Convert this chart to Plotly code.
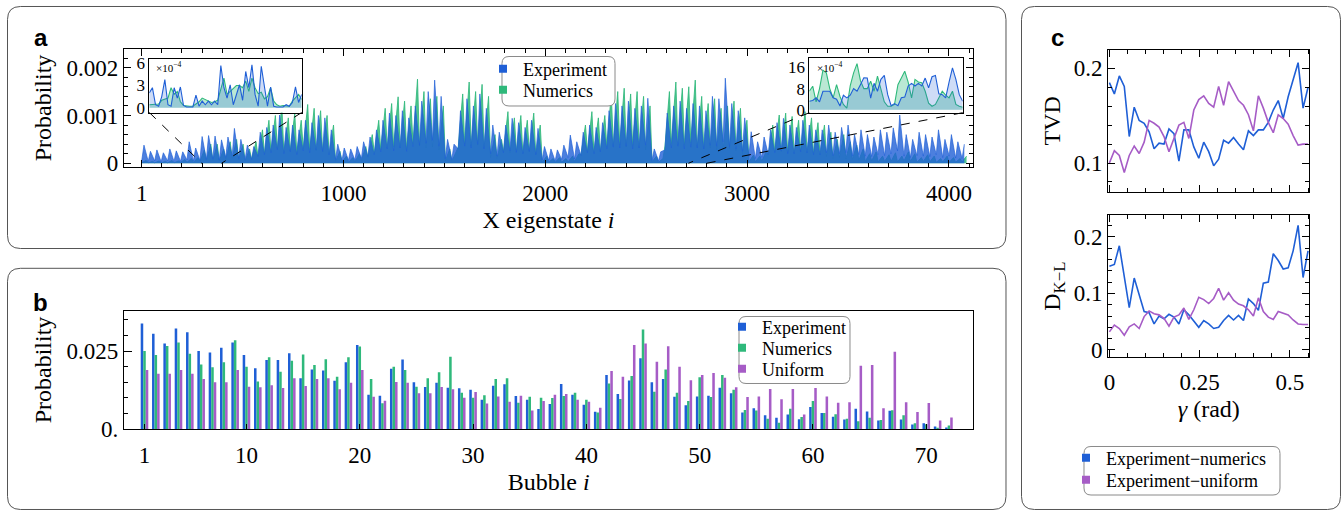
import plotly.graph_objects as go

W, H = 1343, 512

# ---------------- data ----------------
# Panel a: X-eigenstate probabilities, read per 32-state bin (units 1e-4): peak and trough
A_BIN = 32
a_exp_peak = [3.8, 2.5, 2.8, 2.2, 3.0, 2.6, 2.4, 4.5, 3.2,
              5.6, 5.8, 5.7, 4.9, 5.5, 7.3, 5.0, 3.8, 3.5, 6.5, 7.5,
              8.0, 10.1, 7.5, 8.0, 7.0, 9.0, 8.5, 10.0, 9.5, 7.0,
              4.0, 3.2, 3.0, 3.5, 4.5, 5.5, 7.0,
              9.0, 10.5, 10.0, 11.0, 9.5, 12.0, 13.0, 15.0, 17.4, 14.0,
              5.0, 4.0, 11.0, 13.5, 12.0, 14.5, 11.5, 8.0, 6.5,
              8.0, 9.4, 8.5, 7.5, 9.0, 7.3,
              3.5, 3.0, 2.8, 3.8, 5.9, 4.5, 6.5, 8.0, 7.5, 8.5,
              11.0, 12.5, 12.0, 13.0, 11.5, 12.0, 13.6, 3.0, 2.4,
              10.5, 12.0, 13.0, 11.5, 12.5,
              12.0, 11.0, 14.0, 13.5, 17.8, 12.5, 11.0, 9.5, 6.6, 4.5, 5.5,
              7.0, 8.5, 9.4, 8.0, 7.5, 9.0, 8.0, 7.0,
              7.0, 8.0, 6.5, 7.5, 8.0, 6.0, 7.0,
              6.0, 5.5, 7.0, 6.5, 7.4, 10.1, 6.0, 5.0, 6.5, 6.0, 5.5, 7.0, 5.0, 6.0, 4.5, 4.0]
a_exp_trough = [0.6, 0.4, 0.5, 0.3, 0.5, 0.4, 0.4, 0.7, 0.5,
                0.6, 0.8, 0.9, 0.7, 1.2, 1.6, 1.0, 0.8, 0.8, 1.5, 1.8,
                2.2, 2.8, 2.0, 2.4, 1.8, 2.6, 2.2, 2.8, 2.5, 1.8,
                0.8, 0.6, 0.6, 0.7, 1.0, 1.4, 1.8,
                2.4, 3.0, 2.6, 3.2, 2.5, 3.5, 3.8, 4.2, 4.8, 3.6,
                1.0, 0.8, 3.0, 3.6, 3.2, 4.0, 3.0, 2.0, 1.5,
                2.2, 2.6, 2.3, 2.0, 2.5, 1.8,
                0.7, 0.6, 0.5, 0.8, 1.2, 0.9, 1.6, 2.2, 2.0, 2.4,
                3.0, 3.4, 3.2, 3.6, 3.0, 3.2, 3.8, 0.6, 0.5,
                2.8, 3.2, 3.6, 3.0, 3.4,
                3.2, 3.0, 3.8, 3.6, 4.5, 3.4, 3.0, 2.5, 1.5, 1.0, 1.2,
                1.8, 2.2, 2.6, 2.0, 2.0, 2.4, 2.2, 1.8,
                1.8, 2.2, 1.6, 2.0, 2.2, 1.5, 1.8,
                1.5, 1.4, 1.8, 1.6, 2.0, 2.6, 1.5, 1.2, 1.6, 1.5, 1.4, 1.8, 1.2, 1.5, 1.1, 1.0]
a_num_peak = [0.6, 0.4, 0.5, 0.4, 0.6, 0.5, 0.8, 1.0, 1.2,
              2.8, 4.0, 4.0, 3.0, 4.5, 5.0, 4.0, 3.0, 4.5, 7.0, 9.0,
              10.0, 12.0, 9.5, 10.5, 9.0, 12.3, 11.5, 11.0, 10.0, 8.0,
              2.5, 1.5, 1.2, 2.0, 3.5, 6.0, 9.0,
              11.5, 12.5, 13.9, 13.0, 12.0, 17.6, 15.0, 13.5, 14.0, 12.0,
              3.0, 2.5, 14.5, 17.0, 15.0, 16.5, 14.0, 6.0, 5.0,
              10.8, 9.5, 10.0, 9.0, 10.5, 8.0,
              1.5, 1.0, 1.2, 1.0, 1.5, 2.0, 8.0, 10.8, 9.5, 10.0,
              14.6, 15.0, 15.7, 14.5, 15.0, 14.0, 12.0, 1.5, 1.0,
              15.0, 17.0, 15.7, 16.0, 17.4,
              14.0, 12.5, 13.5, 11.5, 12.0, 13.0, 11.5, 9.0, 1.7, 1.5, 2.5,
              8.0, 10.1, 10.5, 9.8, 9.0, 10.8, 9.5, 8.5,
              8.0, 6.5, 5.0, 6.0, 4.5, 3.8, 3.0,
              2.0, 2.4, 1.5, 1.8, 2.2, 1.5, 2.4, 2.0, 1.2, 1.8, 1.5, 1.0, 1.5, 1.2, 1.0, 1.5]
a_num_trough = [0.1, 0.1, 0.1, 0.1, 0.1, 0.1, 0.2, 0.2, 0.2,
                0.4, 0.6, 0.6, 0.5, 0.8, 1.0, 0.8, 0.5, 0.8, 1.4, 2.0,
                2.4, 3.0, 2.2, 2.6, 2.0, 3.0, 2.8, 2.6, 2.4, 1.8,
                0.4, 0.3, 0.2, 0.3, 0.6, 1.2, 2.0,
                2.8, 3.0, 3.4, 3.2, 2.8, 4.0, 3.6, 3.2, 3.4, 2.8,
                0.5, 0.4, 3.4, 4.0, 3.6, 3.8, 3.2, 1.2, 1.0,
                2.4, 2.2, 2.4, 2.0, 2.4, 1.8,
                0.2, 0.2, 0.2, 0.2, 0.3, 0.4, 1.8, 2.4, 2.2, 2.4,
                3.4, 3.6, 3.8, 3.4, 3.6, 3.2, 2.8, 0.3, 0.2,
                3.6, 4.0, 3.8, 3.8, 4.2,
                3.2, 3.0, 3.2, 2.8, 2.8, 3.0, 2.6, 2.0, 0.3, 0.3, 0.5,
                1.8, 2.4, 2.4, 2.2, 2.0, 2.6, 2.2, 2.0,
                1.8, 1.4, 1.0, 1.2, 0.9, 0.8, 0.6,
                0.4, 0.5, 0.3, 0.4, 0.4, 0.3, 0.5, 0.4, 0.2, 0.4, 0.3, 0.2, 0.3, 0.2, 0.2, 0.3]

# Panel a insets (units 1e-4), sampled every 2 states
inset_l_start, inset_l_step = 298, 2
inset_l_exp = [2.0, 2.7, 0.4, 0.2, 1.5, 3.8, 0.4, 0.2, 2.7, 1.3,
               2.8, 0.3, 0.1, 0.1, 0.1, 1.7, 0.2, 0.9, 0.4, 0.9,
               0.4, 0.9, 0.4, 5.7, 2.7, 1.3, 3.1, 0.4, 1.8, 3.1,
               1.0, 4.9, 2.7, 5.8, 1.8, 0.2, 5.6, 2.7, 0.2, 2.8,
               0.2, 0.1, 0.1, 0.1, 0.4, 0.2, 0.7, 2.8, 0.7, 1.8]
inset_l_num = [0.4, 0.4, 0.5, 0.5, 1.0, 1.2, 1.3, 2.7, 1.8, 2.2,
               0.8, 0.3, 0.2, 0.2, 0.2, 0.5, 0.8, 1.3, 1.1, 0.9,
               0.7, 0.8, 1.0, 2.5, 4.0, 1.8, 2.2, 2.5, 3.0, 3.0,
               2.7, 3.6, 2.2, 4.0, 2.7, 1.9, 2.1, 1.2, 1.5, 2.7,
               0.9, 0.4, 0.2, 0.3, 0.2, 0.2, 0.9, 1.3, 1.8, 1.1]
inset_r_start, inset_r_step = 2709, 2
inset_r_exp = [3.2, 3.5, 4.5, 3.0, 7.0, 7.0, 7.0, 4.5, 4.0, 1.4,
               5.5, 4.5, 5.5, 8.0, 7.0, 9.5, 12.1, 12.0, 4.4, 10.0,
               7.0, 11.5, 13.0, 5.7, 1.5, 2.3, 1.5, 4.5, 4.8, 9.0,
               10.0, 9.0, 10.0, 9.0, 12.0, 8.3, 12.5, 13.0, 6.0, 5.7,
               4.5, 10.5, 15.9, 11.5, 5.7, 3.2]
inset_r_num = [7.0, 8.9, 3.0, 8.0, 15.0, 14.0, 8.0, 4.5, 9.5, 5.0,
               2.0, 0.6, 9.0, 14.0, 17.5, 11.0, 8.0, 8.0, 10.8, 7.0,
               12.7, 8.0, 3.0, 1.3, 1.3, 2.0, 9.5, 12.0, 14.6, 10.5,
               4.5, 11.5, 10.5, 10.2, 7.0, 2.5, 1.3, 2.0, 4.5, 7.0,
               5.5, 4.5, 7.0, 2.0, 1.3, 0.9]

# Panel b: bubble probabilities (units 1e-3)
bubbles = list(range(1, 73))
b_exp = [33.8, 30.5, 27.4, 32.2, 31.0, 25.0, 24.5, 26.0, 27.7, 23.7,
         19.5, 22.1, 22.1, 24.3, 16.3, 19.1, 18.8, 15.5, 21.4, 26.9,
         11.0, 10.7, 19.3, 22.3, 15.0, 13.5, 14.9, 13.3, 13.1, 12.6,
         9.4, 13.9, 14.4, 10.6, 9.4, 6.5, 8.1, 14.5, 11.0, 7.8,
         5.6, 17.3, 11.3, 15.6, 22.7, 15.0, 16.1, 10.4, 7.7, 10.5,
         10.7, 13.3, 11.5, 5.4, 6.7, 4.5, 3.7, 4.7, 3.2, 7.1,
         5.2, 4.0, 3.1, 6.6, 5.7, 2.8, 5.9, 3.1, 1.5, 1.9,
         0.9, 0.6]
b_num = [25.0, 23.7, 26.6, 27.7, 24.1, 20.7, 19.8, 21.4, 28.4, 20.0,
         15.3, 23.0, 18.4, 21.9, 23.9, 20.5, 22.4, 16.8, 23.0, 26.4,
         16.1, 8.3, 20.0, 18.9, 13.6, 16.3, 18.2, 23.2, 11.7, 10.1,
         10.9, 16.1, 16.3, 8.5, 10.4, 10.1, 10.0, 10.6, 11.7, 9.4,
         5.4, 14.6, 9.7, 17.0, 31.9, 12.0, 19.1, 11.7, 9.0, 16.6,
         10.3, 17.3, 12.6, 6.2, 6.0, 3.4, 2.1, 6.6, 3.9, 9.0,
         5.2, 4.8, 3.4, 2.6, 3.7, 3.0, 6.1, 4.5, 1.9, 1.6,
         0.2, 1.2]
b_uni = [18.9, 17.7, 17.7, 18.9, 17.7, 16.1, 15.0, 15.0, 18.9, 13.6,
         13.4, 14.1, 13.2, 16.3, 13.8, 16.1, 16.3, 12.8, 14.9, 18.9,
         10.4, 9.1, 15.1, 14.9, 11.5, 11.5, 13.5, 12.8, 10.1, 11.9,
         8.2, 10.5, 8.8, 10.7, 6.0, 9.0, 11.0, 11.3, 9.4, 8.8,
         6.9, 18.6, 16.8, 26.9, 27.4, 21.6, 26.5, 20.0, 15.7, 17.3,
         18.0, 16.5, 13.4, 10.3, 10.5, 12.9, 9.6, 12.9, 4.7, 13.2,
         10.5, 8.5, 8.6, 20.3, 20.5, 6.7, 24.8, 8.6, 5.5, 8.4,
         2.8, 3.8]

# Panel c: distances vs gamma
gamma_step = 0.01375
c_tvd_num = [0.185, 0.173, 0.192, 0.181, 0.128, 0.159, 0.145, 0.142, 0.133, 0.115,
             0.121, 0.120, 0.136, 0.131, 0.102, 0.135, 0.135, 0.117, 0.105, 0.122,
             0.112, 0.097, 0.104, 0.124, 0.121, 0.127, 0.120, 0.114, 0.134, 0.129,
             0.135, 0.135, 0.143, 0.156, 0.166, 0.147, 0.170, 0.188, 0.206, 0.158,
             0.180]
c_tvd_uni = [0.100, 0.113, 0.108, 0.090, 0.108, 0.118, 0.110, 0.122, 0.145, 0.142,
             0.138, 0.128, 0.112, 0.126, 0.140, 0.143, 0.126, 0.156, 0.167, 0.171,
             0.163, 0.159, 0.181, 0.161, 0.186, 0.176, 0.166, 0.161, 0.151, 0.134,
             0.171, 0.158, 0.143, 0.132, 0.151, 0.147, 0.141, 0.129, 0.119, 0.120,
             0.120]
c_dkl_num = [0.148, 0.151, 0.184, 0.130, 0.075, 0.127, 0.098, 0.068, 0.066, 0.046,
             0.060, 0.055, 0.063, 0.058, 0.046, 0.071, 0.062, 0.050, 0.040, 0.052,
             0.046, 0.038, 0.040, 0.052, 0.061, 0.053, 0.061, 0.052, 0.090, 0.082,
             0.070, 0.118, 0.120, 0.170, 0.158, 0.143, 0.145, 0.175, 0.220, 0.128,
             0.175]
c_dkl_uni = [0.032, 0.044, 0.038, 0.026, 0.041, 0.046, 0.038, 0.059, 0.069, 0.064,
             0.062, 0.056, 0.042, 0.058, 0.062, 0.074, 0.054, 0.071, 0.093, 0.089,
             0.082, 0.091, 0.109, 0.088, 0.101, 0.088, 0.081, 0.078, 0.071, 0.060,
             0.092, 0.068, 0.058, 0.054, 0.068, 0.065, 0.062, 0.053, 0.046, 0.045,
             0.045]

# ---------------- style ----------------
BLUE = "#1f5fd6"
GREEN = "#2fb97b"
PURPLE = "#a65cc6"
SERIF = "Liberation Serif"
SANS = "Liberation Sans"


def dx(x0, x1):
    return [x0 / W, x1 / W]


def dy(y0, y1):
    return [1 - y1 / H, 1 - y0 / H]


def rrect(x0, y0, x1, y1, r):
    X = lambda v: round(v / W, 6)
    Y = lambda v: round(1 - v / H, 6)
    return (f"M{X(x0 + r)},{Y(y0)} L{X(x1 - r)},{Y(y0)} Q{X(x1)},{Y(y0)} {X(x1)},{Y(y0 + r)} "
            f"L{X(x1)},{Y(y1 - r)} Q{X(x1)},{Y(y1)} {X(x1 - r)},{Y(y1)} "
            f"L{X(x0 + r)},{Y(y1)} Q{X(x0)},{Y(y1)} {X(x0)},{Y(y1 - r)} "
            f"L{X(x0)},{Y(y0 + r)} Q{X(x0)},{Y(y0)} {X(x0 + r)},{Y(y0)} Z")


def sawtooth(peaks, troughs, peak_offset):
    """Each 32-state bin: its trough at the bin start, its peak inside the bin."""
    xs, ys = [], []
    for k, (p, t) in enumerate(zip(peaks, troughs)):
        xs += [k * A_BIN + 1, k * A_BIN + peak_offset + 1]
        ys += [t * 1e-4, p * 1e-4]
    return xs, ys


def rgba(hexc, a):
    h = hexc.lstrip("#")
    return f"rgba({int(h[0:2], 16)},{int(h[2:4], 16)},{int(h[4:6], 16)},{a})"


tickfont = dict(family=SERIF, size=23, color="black")
titlefont = dict(family=SERIF, size=24, color="black")


def frame(**kw):
    d = dict(showline=True, linecolor="black", linewidth=1.3, mirror="ticks",
             ticks="inside", tickcolor="black", tickwidth=1, ticklen=7,
             showgrid=False, zeroline=False, tickfont=tickfont, fixedrange=True,
             automargin=False)
    d.update(kw)
    return d


fig = go.Figure()

# ---------------- panel a main ----------------
A_XR = [-87, 4119]
A_YR = [-0.0000774, 0.00239]
A_DX = (124, 973)
A_DY = (49, 167)

xn, yn = sawtooth(a_num_peak, a_num_trough, 22)
xe, ye = sawtooth(a_exp_peak, a_exp_trough, 11)
fig.add_trace(go.Scatter(x=xn, y=yn, mode="lines", line=dict(color=rgba(GREEN, 0.95), width=0.9),
                         fill="tozeroy", fillcolor=rgba(GREEN, 0.85), showlegend=False,
                         xaxis="x", yaxis="y", hoverinfo="skip"))
fig.add_trace(go.Scatter(x=xe, y=ye, mode="lines", line=dict(color=rgba(BLUE, 0.75), width=0.9),
                         fill="tozeroy", fillcolor=rgba(BLUE, 0.8), showlegend=False,
                         xaxis="x", yaxis="y", hoverinfo="skip"))

# ---------------- panel a insets ----------------
IL_DX, IL_DY = (149.3, 301.7), (58.5, 112.5)
IR_DX, IR_DY = (809.3, 962.7), (58.3, 112.7)
IL_YR = [-0.65e-4, 6.65e-4]
IR_YR = [-1.14e-4, 19.5e-4]
il_x = [inset_l_start + inset_l_step * j for j in range(len(inset_l_exp))]
ir_x = [inset_r_start + inset_r_step * j for j in range(len(inset_r_exp))]
IL_XR = [il_x[0], il_x[-1]]
IR_XR = [ir_x[0], ir_x[-1]]

for xs, ser_n, ser_e, ax in [(il_x, inset_l_num, inset_l_exp, "2"), (ir_x, inset_r_num, inset_r_exp, "3")]:
    fig.add_trace(go.Scatter(x=xs, y=[v * 1e-4 for v in ser_n], mode="lines",
                             line=dict(color=GREEN, width=1.1), fill="tozeroy",
                             fillcolor=rgba(GREEN, 0.33), showlegend=False,
                             xaxis="x" + ax, yaxis="y" + ax, hoverinfo="skip"))
    fig.add_trace(go.Scatter(x=xs, y=[v * 1e-4 for v in ser_e], mode="lines",
                             line=dict(color=BLUE, width=1.1), fill="tozeroy",
                             fillcolor=rgba(BLUE, 0.22), showlegend=False,
                             xaxis="x" + ax, yaxis="y" + ax, hoverinfo="skip"))

# ---------------- panel b ----------------
for nm, vals, col in [("Experiment", b_exp, BLUE), ("Numerics", b_num, GREEN), ("Uniform", b_uni, PURPLE)]:
    fig.add_trace(go.Bar(x=bubbles, y=[v * 1e-3 for v in vals], name=nm, marker=dict(color=col, line=dict(width=0)),
                         xaxis="x4", yaxis="y4", showlegend=False, hoverinfo="skip"))

# ---------------- panel c ----------------
gamma = [round(i * gamma_step, 5) for i in range(len(c_tvd_num))]
for vals, col, ax in [(c_tvd_num, BLUE, "5"), (c_tvd_uni, PURPLE, "5"),
                      (c_dkl_num, BLUE, "6"), (c_dkl_uni, PURPLE, "6")]:
    fig.add_trace(go.Scatter(x=gamma, y=vals, mode="lines", line=dict(color=col, width=1.6),
                             showlegend=False, xaxis="x" + ax, yaxis="y" + ax, hoverinfo="skip"))

# ---------------- legends: one legend per entry so spacing matches ----------------
# (name, colour, axis suffix, legend id, text-left px, text-centre-y px)
legend_entries = [
    ("Experiment", BLUE, "", "legend", 523, 69),
    ("Numerics", GREEN, "", "legend2", 523, 90),
    ("Experiment", BLUE, "4", "legend3", 762, 327),
    ("Numerics", GREEN, "4", "legend4", 762, 348),
    ("Uniform", PURPLE, "4", "legend5", 762, 369),
    ("Experiment\u2212numerics", BLUE, "6", "legend6", 1106, 458),
    ("Experiment\u2212uniform", PURPLE, "6", "legend7", 1106, 480),
]
legend_layouts = {}
for nm, col, ax, lid, tx, ty in legend_entries:
    fig.add_trace(go.Scatter(x=[None], y=[None], mode="markers", name=nm,
                             marker=dict(symbol="square", size=8, color=col),
                             xaxis="x" + ax, yaxis="y" + ax, legend=lid))
    legend_layouts[lid] = dict(bgcolor="rgba(0,0,0,0)", borderwidth=0, itemwidth=30,
                               font=dict(family=SERIF, size=18, color="black"),
                               xref="paper", yref="paper", xanchor="left", yanchor="middle",
                               x=(tx - 40) / W, y=1 - ty / H,
                               itemclick=False, itemdoubleclick=False)

C_DX = (1108.3, 1309.3)
C_XR = [-0.003, 0.5535]

# ---------------- shapes ----------------
shapes = []
for (x0, y0, x1, y1) in [(7.5, 6.5, 1006, 248.5), (7.5, 268.3, 1006, 509.5), (1021.5, 6.5, 1340.5, 509.5)]:
    shapes.append(dict(type="path", path=rrect(x0, y0, x1, y1, 13), xref="paper", yref="paper",
                       line=dict(color="#555555", width=1), fillcolor="rgba(0,0,0,0)", layer="below"))
for ax, xr, yr in [("2", IL_XR, IL_YR), ("3", IR_XR, IR_YR)]:
    shapes.append(dict(type="rect", xref="x" + ax, yref="y" + ax, x0=xr[0], x1=xr[1], y0=yr[0], y1=yr[1],
                       fillcolor="white", line=dict(width=0), layer="below"))


def px_to_a(xp, yp):
    xv = A_XR[0] + (xp - A_DX[0]) / (A_DX[1] - A_DX[0]) * (A_XR[1] - A_XR[0])
    yv = A_YR[1] - (yp - A_DY[0]) / (A_DY[1] - A_DY[0]) * (A_YR[1] - A_YR[0])
    return xv, yv


for (dxr, dyr, xr) in [(IL_DX, IL_DY, IL_XR), (IR_DX, IR_DY, IR_XR)]:
    for corner_px, target in [(dxr[0], xr[0]), (dxr[1], xr[1])]:
        cx, cy = px_to_a(corner_px, dyr[1])
        shapes.append(dict(type="line", xref="x", yref="y", x0=cx, y0=cy, x1=target, y1=0,
                           line=dict(color="black", width=1, dash="dash"), layer="above"))
for (x0, y0, x1, y1) in [(502, 56.5, 615, 106), (739, 316.5, 850, 383.5), (1084, 446.5, 1280, 495)]:
    shapes.append(dict(type="path", path=rrect(x0, y0, x1, y1, 7), xref="paper", yref="paper",
                       line=dict(color="#8a8a8a", width=1), fillcolor="white", layer="above"))

# ---------------- annotations ----------------
ann = []
for txt, x, y in [("a", 40.5, 37.5), ("b", 40.5, 302), ("c", 1057.5, 37.5)]:
    ann.append(dict(text=f"<b>{txt}</b>", x=x / W, y=1 - y / H, xref="paper", yref="paper",
                    showarrow=False, font=dict(family=SANS, size=24, color="black"),
                    xanchor="center", yanchor="middle"))
for x, y in [(154, 67), (815, 67)]:
    ann.append(dict(text="\u00d710<sup>\u22124</sup>", x=x / W, y=1 - y / H, xref="paper", yref="paper",
                    showarrow=False, font=dict(family=SERIF, size=11, color="black"),
                    xanchor="left", yanchor="middle"))

fig.update_layout(
    width=W, height=H, autosize=False,
    margin=dict(l=0, r=0, t=0, b=0, pad=0, autoexpand=False),
    paper_bgcolor="white", plot_bgcolor="white",
    font=dict(family=SERIF, color="black"),
    barmode="group", bargap=0.33, bargroupgap=0,
    shapes=shapes, annotations=ann, showlegend=True,
    xaxis=frame(domain=dx(*A_DX), range=A_XR, tickvals=[1, 1000, 2000, 3000, 4000],
                minor=dict(dtick=100, tick0=0, ticklen=4, ticks="inside", tickcolor="black"),
                ticklabelstandoff=5,
                title=dict(text="X eigenstate <i>i</i>", font=titlefont, standoff=6)),
    yaxis=frame(domain=dy(*A_DY), range=A_YR, tickvals=[0, 0.001, 0.002], ticktext=["0", "0.001", "0.002"],
                minor=dict(dtick=0.0002, tick0=0, ticklen=4, ticks="inside", tickcolor="black"),
                title=dict(text="Probability", font=titlefont, standoff=8)),
    xaxis2=frame(domain=dx(*IL_DX), range=IL_XR, anchor="y2", showticklabels=False, ticks="",
                 mirror=True, linewidth=1),
    yaxis2=frame(domain=dy(*IL_DY), range=IL_YR, anchor="x2", tickvals=[0, 3e-4, 6e-4], ticktext=["0", "3", "6"],
                 ticks="", mirror=True, linewidth=1, tickfont=dict(family=SERIF, size=17, color="black")),
    xaxis3=frame(domain=dx(*IR_DX), range=IR_XR, anchor="y3", showticklabels=False, ticks="",
                 mirror=True, linewidth=1),
    yaxis3=frame(domain=dy(*IR_DY), range=IR_YR, anchor="x3", tickvals=[0, 8e-4, 16e-4], ticktext=["0", "8", "16"],
                 ticks="", mirror=True, linewidth=1, tickfont=dict(family=SERIF, size=17, color="black")),
    xaxis4=frame(domain=dx(124, 973.3), range=[-0.81, 74.15], anchor="y4",
                 tickvals=[1, 10, 20, 30, 40, 50, 60, 70], ticklen=5, mirror=True, ticklabelstandoff=5,
                 title=dict(text="Bubble <i>i</i>", font=titlefont, standoff=6)),
    yaxis4=frame(domain=dy(310.7, 429.3), range=[0, 0.03787], anchor="x4",
                 tickvals=[0, 0.025], ticktext=["0.", "0.025"], ticklen=8, mirror=True,
                 minor=dict(dtick=0.005, tick0=0, ticklen=4, ticks="inside", tickcolor="black"),
                 title=dict(text="Probability", font=titlefont, standoff=8)),
    xaxis5=frame(domain=dx(*C_DX), range=C_XR, anchor="y5", tickvals=[0, 0.25, 0.5], showticklabels=False,
                 minor=dict(dtick=0.05, tick0=0, ticklen=4, ticks="inside", tickcolor="black")),
    yaxis5=frame(domain=dy(50, 191.7), range=[0.0697, 0.2194], anchor="x5",
                 tickvals=[0.1, 0.2], ticktext=["0.1", "0.2"],
                 minor=dict(dtick=0.02, tick0=0, ticklen=4, ticks="inside", tickcolor="black"),
                 title=dict(text="TVD", font=titlefont, standoff=6)),
    xaxis6=frame(domain=dx(*C_DX), range=C_XR, anchor="y6", tickvals=[0, 0.25, 0.5], ticktext=["0", "0.25", "0.5"],
                 minor=dict(dtick=0.05, tick0=0, ticklen=4, ticks="inside", tickcolor="black"),
                 ticklabelstandoff=4,
                 title=dict(text="<i>\u03b3</i> (rad)", font=titlefont, standoff=6)),
    yaxis6=frame(domain=dy(215, 357.3), range=[-0.0129, 0.2383], anchor="x6",
                 tickvals=[0, 0.1, 0.2], ticktext=["0", "0.1", "0.2"],
                 minor=dict(dtick=0.02, tick0=0, ticklen=4, ticks="inside", tickcolor="black"),
                 title=dict(text="D<sub>K\u2212L</sub>", font=titlefont, standoff=6)),
    **legend_layouts,
)

fig.write_html("out.html", config={"displayModeBar": False, "responsive": False},
               post_script="document.body.style.margin='0';document.body.style.overflow='hidden';")
